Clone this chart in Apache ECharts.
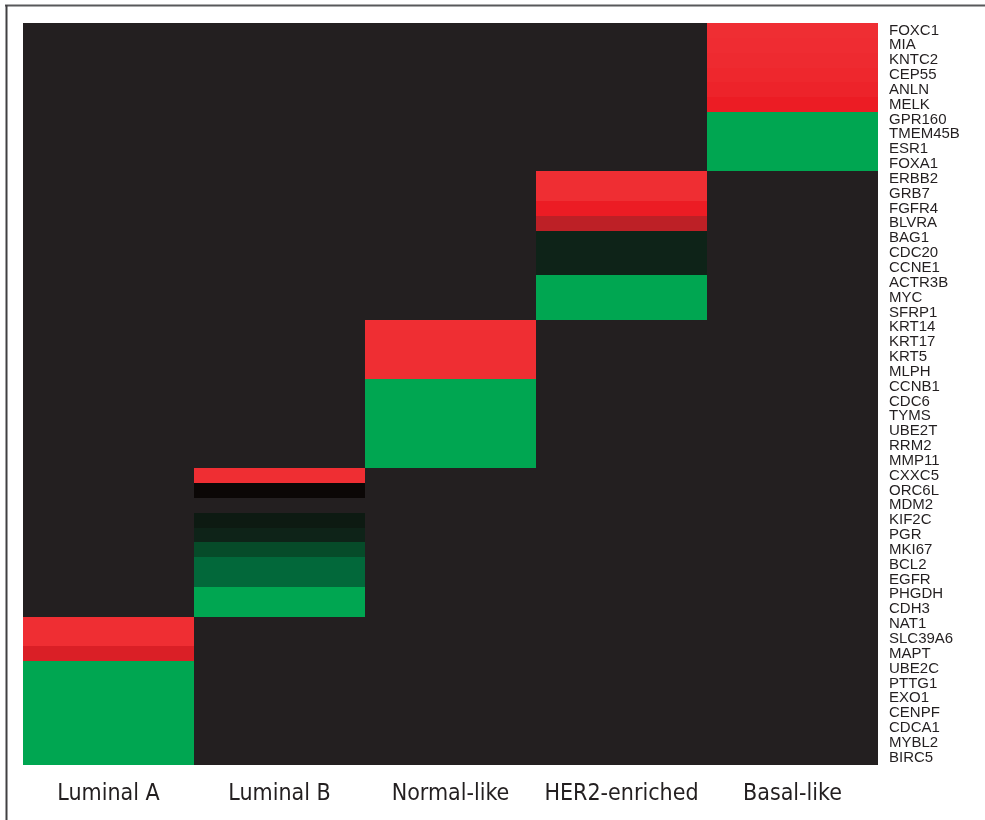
<!DOCTYPE html>
<html>
<head>
<meta charset="utf-8">
<script src="https://cdn.jsdelivr.net/npm/echarts@6/dist/echarts.min.js"></script>
<style>
  html, body { margin: 0; padding: 0; background: #ffffff; }
  #chart { width: 985px; height: 820px; }
</style>
</head>
<body>
<div id="chart"></div>
<script>
// PAM50 genes, top to bottom
const genes = [
  'FOXC1','MIA','KNTC2','CEP55','ANLN','MELK','GPR160','TMEM45B','ESR1','FOXA1',
  'ERBB2','GRB7','FGFR4','BLVRA','BAG1','CDC20','CCNE1','ACTR3B','MYC','SFRP1',
  'KRT14','KRT17','KRT5','MLPH','CCNB1','CDC6','TYMS','UBE2T','RRM2','MMP11',
  'CXXC5','ORC6L','MDM2','KIF2C','PGR','MKI67','BCL2','EGFR','PHGDH','CDH3',
  'NAT1','SLC39A6','MAPT','UBE2C','PTTG1','EXO1','CENPF','CDCA1','MYBL2','BIRC5'
];

const subtypes = ['Luminal A', 'Luminal B', 'Normal-like', 'HER2-enriched', 'Basal-like'];

// Relative expression per subtype, one entry per gene (null = not part of the block)
const _ = null;
const luminalA = [
  _,_,_,_,_,_,_,_,_,_,
  _,_,_,_,_,_,_,_,_,_,
  _,_,_,_,_,_,_,_,_,_,
  _,_,_,_,_,_,_,_,_,_,
  3.0, 3.0, 2.0, -3, -3, -3, -3, -3, -3, -3
];
const luminalB = [
  _,_,_,_,_,_,_,_,_,_,
  _,_,_,_,_,_,_,_,_,_,
  _,_,_,_,_,_,_,_,_,_,
  3.0, 0.0, _, -0.5, -1.0, -1.5, -2.0, -2.0, -3, -3,
  _,_,_,_,_,_,_,_,_,_
];
const normalLike = [
  _,_,_,_,_,_,_,_,_,_,
  _,_,_,_,_,_,_,_,_,_,
  3.0, 3.0, 3.0, 3.0, -3, -3, -3, -3, -3, -3,
  _,_,_,_,_,_,_,_,_,_,
  _,_,_,_,_,_,_,_,_,_
];
const her2Enriched = [
  _,_,_,_,_,_,_,_,_,_,
  3.0, 3.0, 2.5, 1.5, -1.0, -1.0, -1.0, -3, -3, -3,
  _,_,_,_,_,_,_,_,_,_,
  _,_,_,_,_,_,_,_,_,_,
  _,_,_,_,_,_,_,_,_,_
];
const basalLike = [
  3.0, 2.95, 2.9, 2.8, 2.7, 2.5, -3, -3, -3, -3,
  _,_,_,_,_,_,_,_,_,_,
  _,_,_,_,_,_,_,_,_,_,
  _,_,_,_,_,_,_,_,_,_,
  _,_,_,_,_,_,_,_,_,_
];

const columns = [luminalA, luminalB, normalLike, her2Enriched, basalLike];

const cells = [];
columns.forEach(function (col, x) {
  col.forEach(function (v, y) {
    if (v !== null) cells.push([x, y, v]);
  });
});

// green (low) -> near black (0) -> red (high), stops every 0.5 from -3 to 3
const scaleColors = [
  '#00a651', '#01874a', '#02683a', '#064b29', '#0e2318', '#0d1a12', '#0b0706',
  '#4a1013', '#8a181d', '#bd2026', '#da1f26', '#ec1c24', '#ef2e33'
];

// Cells snapped to whole pixels so neighbouring rows meet without seams
function renderCell(params, api) {
  const c = api.coord([api.value(0), api.value(1)]);
  const s = api.size([1, 1]);
  const x0 = Math.round(c[0] - s[0] / 2);
  const x1 = Math.round(c[0] + s[0] / 2);
  const y0 = Math.round(c[1] - s[1] / 2);
  const y1 = Math.round(c[1] + s[1] / 2);
  return {
    type: 'rect',
    shape: { x: x0, y: y0, width: x1 - x0, height: y1 - y0 },
    style: { fill: api.visual('color'), stroke: null }
  };
}

const chart = echarts.init(document.getElementById('chart'), null, { renderer: 'canvas' });

chart.setOption({
  backgroundColor: '#ffffff',
  animation: false,
  grid: {
    left: 23, top: 23, width: 855, height: 742,
    show: true, backgroundColor: '#231f20', borderWidth: 0
  },
  xAxis: {
    type: 'category',
    data: subtypes,
    position: 'bottom',
    axisLine: { show: false },
    axisTick: { show: false },
    splitLine: { show: false },
    axisLabel: {
      interval: 0,
      margin: 18,
      fontFamily: '"Liberation Sans Narrow", "DejaVu Sans Condensed", "Liberation Sans", sans-serif',
      fontSize: 23,
      color: '#231f20'
    }
  },
  yAxis: {
    type: 'category',
    data: genes,
    inverse: true,
    position: 'right',
    axisLine: { show: false },
    axisTick: { show: false },
    splitLine: { show: false },
    axisLabel: {
      margin: 11,
      interval: 0,
      fontFamily: '"Liberation Sans", Arial, sans-serif',
      fontSize: 15,
      color: '#231f20'
    }
  },
  visualMap: {
    type: 'continuous',
    show: false,
    min: -3,
    max: 3,
    dimension: 2,
    inRange: { color: scaleColors }
  },
  series: [{
    type: 'custom',
    renderItem: renderCell,
    data: cells,
    encode: { x: 0, y: 1 },
    silent: true
  }],
  graphic: [
    { type: 'line', shape: { x1: 5, y1: 5.5, x2: 985, y2: 5.5 }, style: { stroke: '#58595b', lineWidth: 2 } },
    { type: 'line', shape: { x1: 6.5, y1: 5, x2: 6.5, y2: 820 }, style: { stroke: '#414042', lineWidth: 2 } }
  ]
});
</script>
</body>
</html>
